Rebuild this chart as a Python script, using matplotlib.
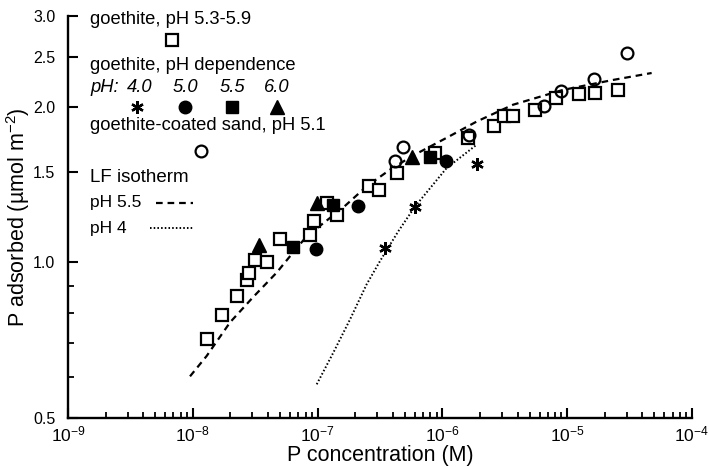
import matplotlib
matplotlib.use('Agg')
import matplotlib.pyplot as plt
from matplotlib.ticker import FixedLocator, FixedFormatter, NullFormatter

plt.rcParams['font.family'] = ['Liberation Sans', 'DejaVu Sans']
plt.rcParams['mathtext.fontset'] = 'custom'
plt.rcParams['mathtext.rm'] = 'Liberation Sans'
plt.rcParams['mathtext.it'] = 'Liberation Sans:italic'

# ---- data ----
# goethite, pH 5.3-5.9 (open squares)
sq_x = [1.29e-8, 1.72e-8, 2.27e-8, 2.70e-8, 2.82e-8, 3.13e-8, 3.95e-8, 5.0e-8, 8.7e-8, 9.35e-8,
        1.18e-7, 1.42e-7, 2.59e-7, 3.09e-7, 4.31e-7, 8.73e-7, 1.61e-6, 2.59e-6, 3.12e-6, 3.70e-6,
        5.49e-6, 8.06e-6, 1.24e-5, 1.66e-5, 2.54e-5]
sq_y = [0.712, 0.791, 0.860, 0.923, 0.955, 1.010, 1.001, 1.108, 1.132, 1.205,
        1.304, 1.238, 1.404, 1.383, 1.490, 1.628, 1.741, 1.839, 1.918, 1.922,
        1.974, 2.080, 2.118, 2.124, 2.158]
# goethite, pH dependence
ph40_x = [3.47e-7, 6.03e-7, 1.88e-6]
ph40_y = [1.069, 1.283, 1.553]
ph50_x = [9.7e-8, 2.12e-7, 1.07e-6]
ph50_y = [1.064, 1.289, 1.569]
ph55_x = [6.38e-8, 1.33e-7, 7.96e-7]
ph55_y = [1.072, 1.294, 1.602]
ph60_x = [3.37e-8, 9.84e-8, 5.67e-7]
ph60_y = [1.079, 1.304, 1.600]
# goethite-coated sand, pH 5.1 (open circles)
sand_x = [4.17e-7, 4.87e-7, 1.63e-6, 6.52e-6, 8.87e-6, 1.65e-5, 3.01e-5]
sand_y = [1.569, 1.675, 1.766, 2.010, 2.148, 2.265, 2.540]
# LF isotherm curves
lf55_x = [9.5e-9, 1.29e-8, 1.99e-8, 3.03e-8, 4.7e-8, 6.35e-8, 8.18e-8, 1.6e-7, 2.47e-7, 3.8e-7,
          5.8e-7, 1.08e-6, 1.88e-6, 3.68e-6, 9.25e-6, 2.33e-5, 4.75e-5]
lf55_y = [0.602, 0.659, 0.766, 0.856, 0.956, 1.045, 1.124, 1.277, 1.404, 1.512,
          1.610, 1.743, 1.874, 2.020, 2.158, 2.256, 2.327]
lf4_x = [9.84e-8, 1.34e-7, 1.82e-7, 2.47e-7, 3.16e-7, 4.43e-7, 6.03e-7, 1.08e-6, 1.88e-6]
lf4_y = [0.581, 0.670, 0.776, 0.907, 1.006, 1.149, 1.283, 1.523, 1.690]

x_ticks = [1e-9, 1e-8, 1e-7, 1e-6, 1e-5, 1e-4]
x_ticklabels = ['$10^{-9}$', '$10^{-8}$', '$10^{-7}$', '$10^{-6}$', '$10^{-5}$', '$10^{-4}$']
y_ticks = [0.5, 1.0, 1.5, 2.0, 2.5, 3.0]
y_ticklabels = ['0.5', '1.0', '1.5', '2.0', '2.5', '3.0']
y_minor = [0.6, 0.7, 0.8, 0.9]

W, H = 709, 467
fig = plt.figure(figsize=(W / 100, H / 100), dpi=100)
L, R, T, B = 68, 692, 16, 418
ax = fig.add_axes([L / W, (H - B) / H, (R - L) / W, (B - T) / H])

ax.set_xscale('log')
ax.set_yscale('log')
ax.set_xlim(1e-9, 1e-4)
ax.set_ylim(0.5, 3.0)

k = 'black'
ax.plot(lf55_x, lf55_y, color=k, lw=1.6, linestyle=(0, (3, 2.2)))
ax.plot(lf4_x, lf4_y, color=k, lw=1.4, linestyle=(0, (0.8, 1.1)))

ms = 8
ax.plot(sq_x, sq_y, 's', ms=ms, mfc='white', mec=k, mew=1.6, ls='none')
ax.plot(sand_x, sand_y, 'o', ms=ms + 0.5, mfc='none', mec=k, mew=1.6, ls='none')
ax.plot(ph40_x, ph40_y, marker=(6, 2, 0), ms=ms + 1, color=k, mew=1.7, ls='none')
ax.plot(ph50_x, ph50_y, 'o', ms=ms + 1, color=k, ls='none')
ax.plot(ph55_x, ph55_y, 's', ms=ms, color=k, ls='none')
ax.plot(ph60_x, ph60_y, '^', ms=ms + 1.5, color=k, ls='none')

# axes styling
for s in ['top', 'right']:
    ax.spines[s].set_visible(False)
for s in ['left', 'bottom']:
    ax.spines[s].set_linewidth(1.7)

minor_x = [m * 10.0 ** e for e in range(-9, -4) for m in range(2, 10)]
ax.xaxis.set_major_locator(FixedLocator(x_ticks))
ax.xaxis.set_major_formatter(FixedFormatter(x_ticklabels))
ax.xaxis.set_minor_locator(FixedLocator(minor_x))
ax.xaxis.set_minor_formatter(NullFormatter())
ax.yaxis.set_major_locator(FixedLocator(y_ticks))
ax.yaxis.set_major_formatter(FixedFormatter(y_ticklabels))
ax.yaxis.set_minor_locator(FixedLocator(y_minor))
ax.yaxis.set_minor_formatter(NullFormatter())
ax.tick_params(which='major', direction='in', length=7, width=1.5)
ax.tick_params(which='minor', direction='in', length=4, width=1.3)
ax.tick_params(axis='x', which='major', pad=5, labelsize=12.5)
ax.tick_params(axis='y', which='major', pad=9, labelsize=11.5)

ax.set_xlabel('P concentration (M)', fontsize=15.5, labelpad=0)
ax.set_ylabel('P adsorbed (\u00b5mol m$^{-2}$)', fontsize=15.5, labelpad=1)

# ---- in-axes legend ----
def fx(px):
    return (px - L) / (R - L)

def fy(py):
    return (B - py) / (B - T)

tr = ax.transAxes
fs = 13.2
ax.text(fx(90), fy(20), 'goethite, pH 5.3-5.9', transform=tr, fontsize=fs, va='center', ha='left')
ax.plot([fx(172)], [fy(40)], 's', transform=tr, ms=ms, mfc='white', mec=k, mew=1.6, clip_on=False)
ax.text(fx(90), fy(66), 'goethite, pH dependence', transform=tr, fontsize=fs, va='center', ha='left')
ax.text(fx(90), fy(87), 'pH:', transform=tr, fontsize=fs, va='center', ha='left', style='italic')
for lab, px in zip(['4.0', '5.0', '5.5', '6.0'], [140, 185, 232, 277]):
    ax.text(fx(px), fy(87), lab, transform=tr, fontsize=fs, va='center', ha='center', style='italic')
ax.plot([fx(137)], [fy(107)], marker=(6, 2, 0), transform=tr, ms=ms + 1, color=k, mew=1.7, clip_on=False)
ax.plot([fx(185)], [fy(107)], 'o', transform=tr, ms=ms + 1, color=k, clip_on=False)
ax.plot([fx(232)], [fy(107)], 's', transform=tr, ms=ms, color=k, clip_on=False)
ax.plot([fx(277)], [fy(107)], '^', transform=tr, ms=ms + 1.5, color=k, clip_on=False)
ax.text(fx(90), fy(126), 'goethite-coated sand, pH 5.1', transform=tr, fontsize=fs, va='center', ha='left')
ax.plot([fx(201)], [fy(151)], 'o', transform=tr, ms=ms + 0.5, mfc='none', mec=k, mew=1.6, clip_on=False)
ax.text(fx(90), fy(178), 'LF isotherm', transform=tr, fontsize=fs + 0.3, va='center', ha='left')
ax.text(fx(90), fy(203), 'pH 5.5', transform=tr, fontsize=fs - 0.7, va='center', ha='left')
ax.plot([fx(156), fx(193)], [fy(203), fy(203)], transform=tr, color=k, lw=1.6, linestyle=(0, (3, 2.2)))
ax.text(fx(90), fy(228), 'pH 4', transform=tr, fontsize=fs - 0.7, va='center', ha='left')
ax.plot([fx(150), fx(193)], [fy(228), fy(228)], transform=tr, color=k, lw=1.4, linestyle=(0, (0.8, 1.1)))

fig.savefig('out.png', dpi=100)
